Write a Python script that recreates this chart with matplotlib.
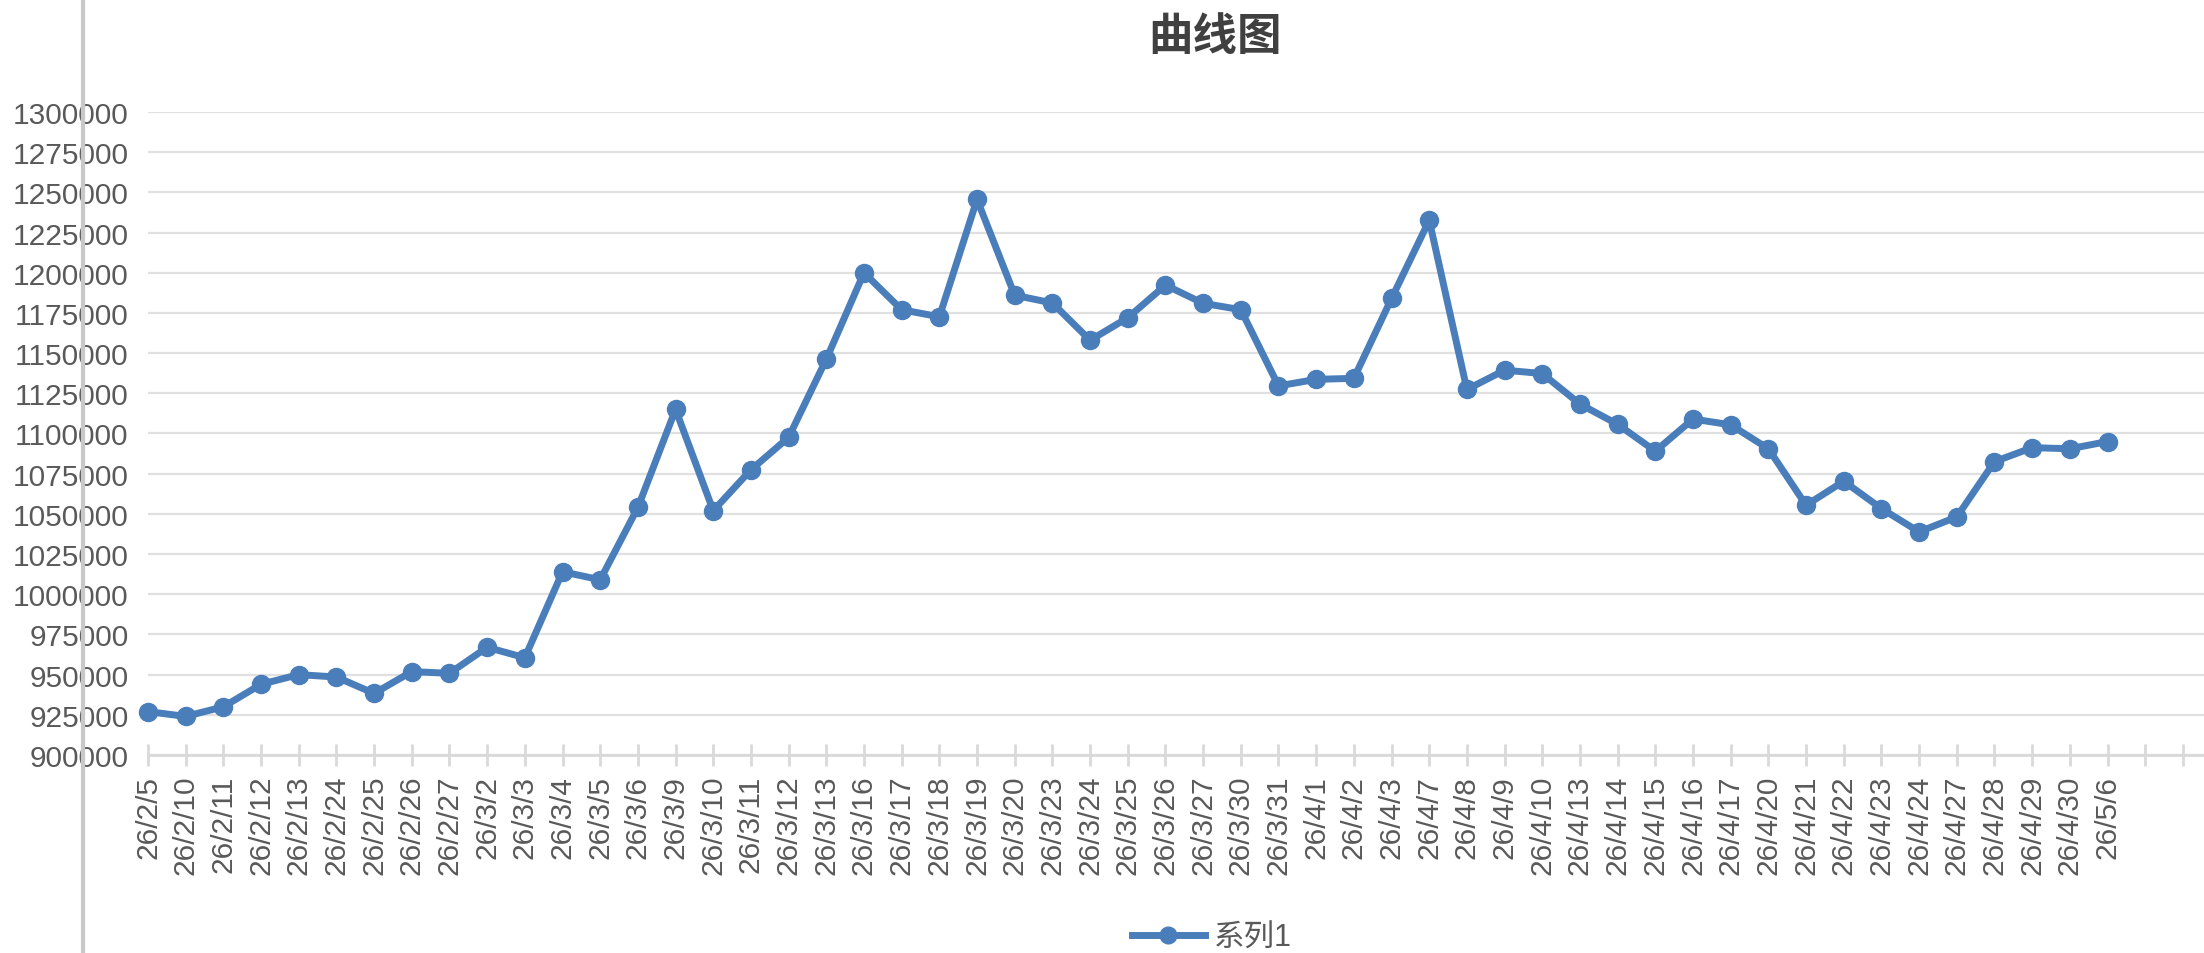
#!/usr/bin/env python3
import matplotlib
matplotlib.use('Agg')
from matplotlib import pyplot as plt
from matplotlib.lines import Line2D

plt.rcParams['font.family'] = ['Liberation Sans', 'Noto Sans CJK SC', 'DejaVu Sans']

dates = ['26/2/5', '26/2/10', '26/2/11', '26/2/12', '26/2/13', '26/2/24', '26/2/25',
         '26/2/26', '26/2/27', '26/3/2', '26/3/3', '26/3/4', '26/3/5', '26/3/6',
         '26/3/9', '26/3/10', '26/3/11', '26/3/12', '26/3/13', '26/3/16', '26/3/17',
         '26/3/18', '26/3/19', '26/3/20', '26/3/23', '26/3/24', '26/3/25', '26/3/26',
         '26/3/27', '26/3/30', '26/3/31', '26/4/1', '26/4/2', '26/4/3', '26/4/7',
         '26/4/8', '26/4/9', '26/4/10', '26/4/13', '26/4/14', '26/4/15', '26/4/16',
         '26/4/17', '26/4/20', '26/4/21', '26/4/22', '26/4/23', '26/4/24', '26/4/27',
         '26/4/28', '26/4/29', '26/4/30', '26/5/6']
values = [927000, 924000, 930000, 944000, 950000, 948500, 938300,
          951900, 950800, 967000, 960500, 1014000, 1009000, 1054000,
          1115000, 1052000, 1077400, 1097600, 1146200, 1200000, 1177000,
          1172600, 1245600, 1186000, 1181200, 1158000, 1172000, 1192300,
          1181000, 1177000, 1129600, 1133700, 1134300, 1184000, 1232600,
          1127400, 1139400, 1137300, 1118300, 1105700, 1089000, 1109000,
          1105400, 1090500, 1055400, 1070300, 1053300, 1038800, 1048100,
          1082500, 1091200, 1090500, 1095000]
yticks = list(range(900000, 1300001, 25000))
series_name = '系列1'
title = '曲线图'

blue = '#4a7ebb'
text_grey = '#595959'

fig = plt.figure(figsize=(22.04, 9.54), dpi=100)
ax = fig.add_axes([148 / 2204, 1 - 756 / 954, 1 - 148 / 2204, (756 - 113) / 954])

x = list(range(len(dates)))
ax.plot(x, values, color=blue, lw=5, marker='o', ms=13, clip_on=False, zorder=3)

ax.set_ylim(900000, 1300000)
ax.set_yticks(yticks)
ax.set_yticklabels([str(v) for v in yticks])
ax.set_xlim(0, 54.56)
ax.set_xticks(list(range(len(dates) + 2)))
ax.set_xticklabels(dates + ['', ''], rotation=90)

ax.grid(axis='y', color='#e0e0e0', lw=1.6)
ax.set_axisbelow(True)
for s in ['top', 'right', 'left']:
    ax.spines[s].set_visible(False)
ax.spines['bottom'].set_color('#d9d9d9')
ax.spines['bottom'].set_linewidth(2)
ax.tick_params(axis='y', length=0, pad=14, labelsize=21.5, labelcolor=text_grey)
ax.tick_params(axis='x', direction='inout', length=16.5, width=2, color='#d9d9d9',
               pad=6, labelsize=21.5, labelcolor=text_grey)

# grey vertical rule at the left edge of the picture
fig.add_artist(Line2D([83 / 2204, 83 / 2204], [0, 1], color='#c8c8c8', lw=3))

fig.text(1215 / 2204, 1 - 37 / 954, title, ha='center', va='center', fontsize=32,
         fontweight='bold', color='#404040', family=['Noto Sans CJK SC'])

handle = Line2D([], [], color=blue, lw=5, marker='o', ms=12)
fig.legend([handle], [series_name], loc='center', bbox_to_anchor=(1212 / 2204, 1 - 939 / 954),
           frameon=False, fontsize=22, handlelength=2.4, handletextpad=0.3,
           labelcolor=text_grey)

fig.savefig('out.png', dpi=100)
